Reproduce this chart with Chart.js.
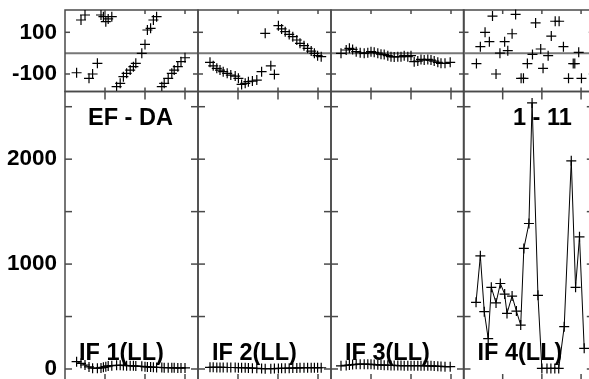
<!DOCTYPE html>
<html>
<head>
<meta charset="utf-8">
<script src="https://cdn.jsdelivr.net/npm/chart.js@4.4.0/dist/chart.umd.min.js"></script>
<style>
  html, body { margin: 0; padding: 0; background: #fff; overflow: hidden; width: 589px; height: 379px; }
  canvas { position: absolute; left: 0; top: 0; }
</style>
</head>
<body>
<script>
// ---- data (time in hours, phase in degrees, amplitude) ----
var ifNames = ['IF 1(LL)', 'IF 2(LL)', 'IF 3(LL)', 'IF 4(LL)'];
var baselineLabel = 'EF - DA';
var scanLabel = '1 - 11';

var timeIF1 = [0.29, 0.40, 0.50, 0.60, 0.69, 0.81, 0.90, 0.96, 1.02, 1.08, 1.17, 1.29, 1.38, 1.46, 1.54, 1.63,
               1.71, 1.77, 1.92, 2.00, 2.06, 2.14, 2.21, 2.29, 2.42, 2.48, 2.58, 2.67, 2.73, 2.82, 2.90, 3.00];
var phaseIF1 = [-94, 159, 183, -121, -100, -49, 183, 175, 151, 164, 175, -161, -145, -113, -97, -81,
                -65, -49, -1, 42, 111, 119, 159, 175, -161, -145, -121, -97, -81, -65, -41, -22];
var ampIF1 = [70, 54, 38, 20, 8, 7, 10, 16, 22, 29, 32, 35, 35, 34, 32, 32,
              30, 28, 25, 22, 20, 18, 16, 15, 14, 13, 13, 12, 11, 10, 10, 10];

var timeIF2 = [0.30, 0.38, 0.47, 0.55, 0.63, 0.73, 0.82, 0.93, 1.01, 1.09, 1.18, 1.26, 1.36, 1.47, 1.59, 1.68,
               1.82, 1.91, 2.01, 2.09, 2.18, 2.28, 2.37, 2.47, 2.55, 2.65, 2.74, 2.83, 2.91, 2.99, 3.08];
var phaseIF2 = [-44, -61, -73, -81, -89, -97, -105, -110, -121, -150, -145, -137, -134, -129, -89, 95,
                -61, -102, 132, 116, 103, 90, 79, 63, 47, 36, 23, 10, -1, -12, -17];
var ampIF2 = [16, 16, 15, 15, 15, 14, 14, 14, 13, 13, 12, 10, 8, 6, 4, 3,
              3, 4, 5, 6, 7, 8, 9, 10, 11, 12, 12, 12, 12, 12, 12];

var timeIF3 = [0.25, 0.38, 0.46, 0.54, 0.63, 0.73, 0.83, 0.92, 1.00, 1.08, 1.17, 1.25, 1.33, 1.42, 1.50, 1.58,
               1.67, 1.75, 1.83, 1.92, 2.00, 2.08, 2.17, 2.25, 2.33, 2.42, 2.50, 2.58, 2.67, 2.75, 2.85, 2.98];
var phaseIF3 = [-1, 15, 23, 18, 7, 2, -1, 2, 7, 4, 0, -5, -7, -12, -17, -18,
                -17, -17, -12, -17, -12, -41, -38, -30, -33, -30, -33, -38, -44, -49, -49, -44];
var ampIF3 = [30, 34, 38, 42, 45, 46, 46, 45, 44, 42, 40, 38, 36, 35, 34, 34,
              33, 33, 32, 32, 32, 32, 32, 31, 31, 30, 30, 28, 26, 24, 22, 22];

var timeIF4Phase = [0.33, 0.43, 0.55, 0.66, 0.74, 0.83, 0.93, 1.05, 1.13, 1.24, 1.33, 1.47, 1.53, 1.63,
                    1.76, 1.84, 1.97, 2.03, 2.16, 2.24, 2.34, 2.44, 2.55, 2.68, 2.80, 2.84, 2.94, 3.01];
var phaseIF4 = [-50, 31, 100, 55, 178, -100, 0, 55, 12, 93, 186, -121, -121, -50,
                -6, 145, 20, -73, -12, 82, 153, 153, 31, -121, -50, -50, 4, -121];
var timeIF4Amp = [0.32, 0.43, 0.53, 0.63, 0.71, 0.83, 0.94, 1.05, 1.11, 1.24, 1.35, 1.46, 1.54,
                  1.67, 1.75, 1.90, 2.00, 2.13, 2.23, 2.33, 2.43, 2.57, 2.75, 2.86, 2.96, 3.08];
var ampIF4 = [635, 1079, 546, 289, 778, 630, 815, 714, 530, 695, 552, 419, 1149,
              1387, 2536, 702, 5, 5, 5, 5, 5, 403, 1984, 778, 1260, 197];

var timeTicks = [1, 2, 3];
var phaseTicks = [-100, 100];
var phaseTickLabels = [-100, 100];
var ampTicks = [0, 500, 1000, 1500, 2000, 2500];
var ampTickLabels = [0, 1000, 2000];

// ---- layout ----
var W = 600, H = 395;
var colLeft = [65, 198, 331, 463.5];
var panelW = 133;
var phaseTop = 10, rowSplit = 91.5, ampBottom = 382;
var labelFont = 'bold 23.5px "Liberation Sans", Arial, sans-serif';

var series = [
  { phaseT: timeIF1, phase: phaseIF1, ampT: timeIF1, amp: ampIF1 },
  { phaseT: timeIF2, phase: phaseIF2, ampT: timeIF2, amp: ampIF2 },
  { phaseT: timeIF3, phase: phaseIF3, ampT: timeIF3, amp: ampIF3 },
  { phaseT: timeIF4Phase, phase: phaseIF4, ampT: timeIF4Amp, amp: ampIF4 }
];

function pts(t, v) {
  return t.map(function (x, i) { return { x: x, y: v[i] }; });
}

function seg(ctx, x1, y1, x2, y2) {
  ctx.beginPath(); ctx.moveTo(x1, y1); ctx.lineTo(x2, y2); ctx.stroke();
}

var framePlugin = {
  id: 'frame',
  beforeDatasetsDraw: function (chart, args, o) {
    var a = chart.chartArea, ctx = chart.ctx;
    var xs = chart.scales.x, ys = chart.scales.y;
    ctx.save();
    if (o.zero) {
      ctx.strokeStyle = '#777'; ctx.lineWidth = 2;
      var pz = ys.getPixelForValue(0);
      seg(ctx, a.left, pz, a.right, pz);
    }
    ctx.strokeStyle = '#4a4a4a'; ctx.lineWidth = 1.5;
    ctx.strokeRect(a.left, a.top, a.right - a.left, a.bottom - a.top);
    o.xTicks.forEach(function (v) {
      var px = xs.getPixelForValue(v);
      seg(ctx, px, a.top, px, a.top + o.xLen);
      seg(ctx, px, a.bottom, px, a.bottom - o.xLen);
    });
    o.yTicks.forEach(function (v) {
      var py = ys.getPixelForValue(v);
      seg(ctx, a.left, py, a.left + o.yLen, py);
      seg(ctx, a.right, py, a.right - o.yLen, py);
    });
    ctx.restore();
  },
  afterDatasetsDraw: function (chart, args, o) {
    var a = chart.chartArea, ctx = chart.ctx;
    ctx.save();
    ctx.fillStyle = '#000'; ctx.font = labelFont; ctx.textBaseline = 'alphabetic';
    (o.texts || []).forEach(function (t) {
      ctx.textAlign = t.align;
      ctx.fillText(t.text, t.align === 'left' ? a.left + t.dx : a.right - t.dx, t.y);
    });
    ctx.restore();
  }
};

function panel(col, isPhase) {
  var s = series[col];
  var canvas = document.createElement('canvas');
  canvas.width = W; canvas.height = H;
  document.body.appendChild(canvas);
  var left = colLeft[col], right = left + panelW;
  var top = isPhase ? phaseTop : rowSplit, bottom = isPhase ? rowSplit : ampBottom;
  var texts = [];
  if (!isPhase) {
    texts.push({ text: ifNames[col], align: 'left', dx: 14, y: 360 });
    if (col === 0) texts.push({ text: baselineLabel, align: 'left', dx: 23, y: 125 });
    if (col === 3) texts.push({ text: scanLabel, align: 'right', dx: 22, y: 125 });
  }
  var labelVals = isPhase ? phaseTickLabels : ampTickLabels;
  var showAxis = col === 0;
  new Chart(canvas, {
    type: 'line',
    data: {
      datasets: [{
        data: isPhase ? pts(s.phaseT, s.phase) : pts(s.ampT, s.amp),
        showLine: !isPhase,
        borderColor: '#000',
        borderWidth: 1,
        tension: 0,
        pointStyle: 'cross',
        pointRadius: 5,
        pointBorderWidth: 1.2,
        pointBorderColor: '#000',
        clip: false
      }]
    },
    options: {
      responsive: false,
      animation: false,
      events: [],
      layout: { padding: { left: showAxis ? 0 : left, right: W - right, top: top, bottom: H - bottom } },
      plugins: {
        legend: { display: false },
        tooltip: { enabled: false },
        frame: {
          zero: isPhase,
          xTicks: timeTicks,
          yTicks: isPhase ? phaseTicks : ampTicks,
          xLen: isPhase ? 4 : 8,
          yLen: isPhase ? 5 : 7,
          texts: texts
        }
      },
      scales: {
        x: { type: 'linear', min: 0, max: panelW / 40, display: false },
        y: {
          type: 'linear',
          min: isPhase ? -184 : -124,
          max: isPhase ? 207 : 2645,
          display: showAxis,
          afterBuildTicks: function (sc) {
            sc.ticks = labelVals.map(function (v) { return { value: v }; });
          },
          afterFit: function (sc) {
            if (showAxis) sc.width = left;
            sc.paddingTop = 0; sc.paddingBottom = 0;
          },
          ticks: {
            color: '#000',
            padding: 8,
            font: { family: '"Liberation Sans", Arial, sans-serif', size: 22.5, weight: 'bold' },
            callback: function (v) { return String(v); }
          },
          grid: { display: false, drawTicks: false },
          border: { display: false }
        }
      }
    },
    plugins: [framePlugin]
  });
}

for (var c = 0; c < 4; c++) {
  panel(c, true);
  panel(c, false);
}
</script>
</body>
</html>
